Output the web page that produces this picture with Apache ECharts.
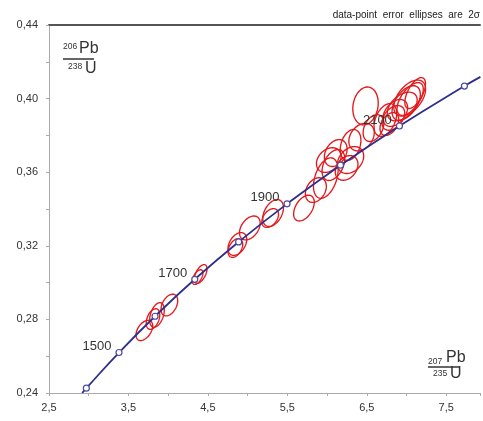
<!DOCTYPE html>
<html><head><meta charset="utf-8">
<script src="https://cdn.jsdelivr.net/npm/echarts@6/dist/echarts.min.js"></script>
<style>html,body{margin:0;padding:0;background:#fff}#c{width:483px;height:421px}</style>
</head><body><div id="c"></div>
<script>
// Concordia age points (Ma) with their 207Pb/235U and 206Pb/238U ratios
const concordiaAge = [null, 1400, 1500, 1600, 1700, 1800, 1900, 2000, 2100, 2200, null];
const concordiaX = [2.918, 2.970, 3.381, 3.835, 4.335, 4.887, 5.496, 6.169, 6.911, 7.729, 7.930];
const concordiaY = [0.2400, 0.2426, 0.2620, 0.2817, 0.3018, 0.3221, 0.3428, 0.3638, 0.3851, 0.4068, 0.4118];
const labeledAges = [1500, 1700, 1900, 2100];

// Error ellipses (2 sigma): centre, half-extent in x and y, correlation
const ellX   = [3.700, 3.859, 3.809, 4.015, 4.409, 4.371, 4.871, 4.846, 5.028, 5.321, 5.284, 5.709, 5.859, 5.984, 6.080, 6.246, 6.296, 6.296, 6.434, 6.484, 6.021, 6.109, 6.584, 6.734, 7.040, 7.046, 6.996, 6.946, 6.859, 6.834, 6.784, 7.109];
const ellY   = [0.2740, 0.2824, 0.2802, 0.2878, 0.3047, 0.3030, 0.3210, 0.3188, 0.3297, 0.3378, 0.3351, 0.3405, 0.3503, 0.3568, 0.3639, 0.3623, 0.3666, 0.3748, 0.3791, 0.3960, 0.3666, 0.3704, 0.3840, 0.3884, 0.4003, 0.3998, 0.3976, 0.3957, 0.3922, 0.3895, 0.3862, 0.4030];
const ellSx  = [0.105, 0.092, 0.085, 0.105, 0.080, 0.066, 0.118, 0.092, 0.130, 0.130, 0.105, 0.130, 0.132, 0.155, 0.143, 0.143, 0.165, 0.130, 0.160, 0.160, 0.155, 0.143, 0.130, 0.143, 0.200, 0.165, 0.178, 0.188, 0.155, 0.143, 0.118, 0.130];
const ellSy  = [0.0055, 0.0067, 0.0056, 0.0059, 0.0051, 0.0040, 0.0062, 0.0051, 0.0065, 0.0073, 0.0051, 0.0070, 0.0067, 0.0110, 0.0084, 0.0067, 0.0073, 0.0084, 0.0075, 0.0103, 0.0067, 0.0073, 0.0073, 0.0089, 0.0098, 0.0089, 0.0094, 0.0078, 0.0073, 0.0067, 0.0062, 0.0084];
const ellRho = [0.45, 0.4, 0.4, 0.4, 0.55, 0.55, 0.4, 0.4, 0.4, 0.4, 0.4, 0.45, 0.3, 0.4, 0.4, 0.3, 0.3, 0.3, 0.3, 0.15, 0.3, 0.3, 0.35, 0.4, 0.5, 0.6, 0.5, 0.45, 0.4, 0.4, 0.4, 0.6];

// Axis settings
const xMin = 2.5, xMax = 7.925, xStep = 0.5;
const yMin = 0.24, yMax = 0.44, yStep = 0.02;
const noteText = 'data-point  error  ellipses  are  2σ';

const FONT = '"Liberation Sans", Arial, sans-serif';
const chart = echarts.init(document.getElementById('c'), null, {renderer: 'canvas'});

const ellipseData = ellX.map((x, i) => [x, ellY[i], ellSx[i], ellSy[i], ellRho[i]]);
const curveData = concordiaX.map((x, i) => {
  const age = concordiaAge[i];
  const item = {value: [x, concordiaY[i]]};
  if (age === null) item.symbol = 'none';
  if (labeledAges.includes(age)) {
    item.label = {show: true, formatter: String(age)};
  }
  return item;
});

const fmt = (v, d) => v.toFixed(d).replace('.', ',');

chart.setOption({
  animation: false,
  grid: {left: 49, right: 0, top: 25, bottom: 28},
  xAxis: [{
    type: 'value', min: xMin, max: xMax, interval: xStep,
    axisLine: {show: true, lineStyle: {color: '#aaaaaa', width: 1}},
    axisTick: {show: true, length: 3, lineStyle: {color: '#aaaaaa'}},
    splitLine: {show: false},
    axisLabel: {
      color: '#333', fontSize: 11, fontFamily: FONT, margin: 9,
      formatter: v => (Math.abs(((v - xMin) % 1)) < 1e-6 || Math.abs(((v - xMin) % 1) - 1) < 1e-6) && v <= 7.6 ? fmt(v, 1) : ''
    }
  }, {
    type: 'value', position: 'top', min: xMin, max: xMax,
    axisLine: {show: true, lineStyle: {color: '#555555', width: 2}},
    axisTick: {show: false}, axisLabel: {show: false}, splitLine: {show: false}
  }],
  yAxis: {
    type: 'value', min: yMin, max: yMax, interval: yStep,
    axisLine: {show: true, lineStyle: {color: '#aaaaaa', width: 1}},
    axisTick: {show: true, length: 3, lineStyle: {color: '#aaaaaa'}},
    splitLine: {show: false},
    axisLabel: {
      color: '#333', fontSize: 11, fontFamily: FONT, margin: 11,
      formatter: v => (Math.round(v * 100) % 4 === 0) ? fmt(v, 2) : ''
    }
  },
  series: [{
    type: 'custom',
    xAxisIndex: 0, yAxisIndex: 0,
    data: ellipseData,
    encode: {x: 0, y: 1},
    clip: true,
    z: 2,
    renderItem: (params, api) => {
      const cx = api.value(0), cy = api.value(1), sx = api.value(2), sy = api.value(3), r = api.value(4);
      const k = Math.sqrt(1 - r * r);
      const pts = [];
      for (let j = 0; j < 72; j++) {
        const t = j / 72 * Math.PI * 2;
        pts.push(api.coord([cx + sx * Math.cos(t), cy + sy * (r * Math.cos(t) + k * Math.sin(t))]));
      }
      return {type: 'polygon', shape: {points: pts}, style: {fill: null, stroke: '#e3191c', lineWidth: 1.35}};
    }
  }, {
    type: 'line',
    xAxisIndex: 0, yAxisIndex: 0,
    data: curveData,
    smooth: true,
    z: 3,
    symbol: 'circle', symbolSize: 6, showSymbol: true,
    lineStyle: {color: '#2c2f8c', width: 1.8},
    itemStyle: {color: '#ffffff', borderColor: '#4a4ca4', borderWidth: 1.2},
    label: {show: false, position: 'left', distance: 4, offset: [0, -6], color: '#333', fontSize: 13, fontFamily: FONT},
    emphasis: {disabled: true}
  }],
  graphic: [
    {type: 'text', right: 3, top: 10, style: {text: noteText, fontSize: 10, fontFamily: FONT, fill: '#222'}},
    {type: 'text', left: 63, top: 42, style: {text: '206', fontSize: 8.5, fontFamily: FONT, fill: '#333'}},
    {type: 'text', left: 79, top: 41, style: {text: 'Pb', fontSize: 16, fontFamily: FONT, fill: '#333'}},
    {type: 'line', shape: {x1: 63, y1: 59, x2: 94, y2: 59}, style: {stroke: '#333', lineWidth: 1.5}},
    {type: 'text', left: 68, top: 62, style: {text: '238', fontSize: 8.5, fontFamily: FONT, fill: '#333'}},
    {type: 'text', left: 85, top: 61, style: {text: 'U', fontSize: 16, fontFamily: FONT, fill: '#333'}},
    {type: 'text', left: 428, top: 357, style: {text: '207', fontSize: 8.5, fontFamily: FONT, fill: '#333'}},
    {type: 'text', left: 446, top: 350, style: {text: 'Pb', fontSize: 16, fontFamily: FONT, fill: '#333'}},
    {type: 'line', shape: {x1: 428, y1: 367, x2: 459, y2: 367}, style: {stroke: '#333', lineWidth: 1.5}},
    {type: 'text', left: 433, top: 369, style: {text: '235', fontSize: 8.5, fontFamily: FONT, fill: '#333'}},
    {type: 'text', left: 450, top: 366, style: {text: 'U', fontSize: 16, fontFamily: FONT, fill: '#333'}}
  ]
});
</script>
</body></html>
